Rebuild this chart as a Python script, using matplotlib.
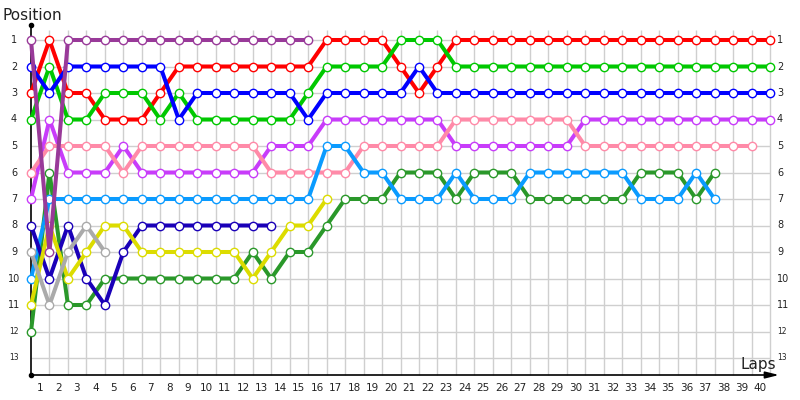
import matplotlib
matplotlib.use("Agg")
import matplotlib.pyplot as plt

# ---- data: position per lap (index 0 = grid / lap 0) ----
laps_total = 40
positions = list(range(1, 14))

red = [3, 1, 3, 3, 4, 4, 4, 3, 2, 2, 2, 2, 2, 2, 2, 2, 1, 1, 1, 1, 2, 3, 2] + [1] * 18
green = [4, 2, 4, 4, 3, 3, 3, 4, 3, 4, 4, 4, 4, 4, 4, 3, 2, 2, 2, 2, 1, 1, 1] + [2] * 18
blue = [2, 3, 2, 2, 2, 2, 2, 2, 4, 3, 3, 3, 3, 3, 3, 4, 3, 3, 3, 3, 3, 2, 3] + [3] * 18
purple = [1, 9] + [1] * 14
violet = [7, 4, 6, 6, 6, 5, 6] + [6] * 6 + [5] * 3 + [4] * 7 + [5] * 7 + [4] * 11
pink = [6, 5, 5, 5, 5, 6] + [5] * 7 + [6] * 5 + [5] * 5 + [4] * 7 + [5] * 10
lightblue = [10, 7] + [7] * 14 + [5, 5, 6, 6, 7, 7, 7, 6, 7, 7, 7] + [6] * 6 + [7, 7, 7, 6, 7]
darkblue = [8, 10, 8, 10, 11, 9, 8, 8, 8, 8, 8, 8, 8, 8]
yellow = [11, 8, 10, 9, 8, 8, 9, 9, 9, 9, 9, 9, 10, 9, 8, 8, 7]
gray = [9, 11, 9, 8, 9]
darkgreen = [12, 6, 11, 11] + [10] * 8 + [9, 10, 9, 9, 8, 7, 7, 7, 6, 6, 6, 7, 6, 6, 6] + [7] * 6 + [6, 6, 6, 7, 6]

series = [
    (red, "#ff0000"),
    (green, "#00c800"),
    (blue, "#0000ff"),
    (violet, "#c83cfa"),
    (pink, "#ff8aa8"),
    (darkgreen, "#2a982a"),
    (lightblue, "#0a9bff"),
    (darkblue, "#1a00b8"),
    (yellow, "#dcdc00"),
    (gray, "#aaaaaa"),
    (purple, "#993a99"),
]

# pixel mapping helpers (figure 800x400, axes fill figure)
X0, DX = 31.0, 18.475   # lap 0 pixel, pixels per lap
Y0, DY = 40.0, 26.5     # position 1 pixel, pixels per position

def lx(px):
    return (px - X0) / DX

def py(px):
    return 1 + (px - Y0) / DY

fig = plt.figure(figsize=(8, 4), dpi=100)
ax = fig.add_axes([0, 0, 1, 1])
ax.set_xlim(lx(0), lx(800))
ax.set_ylim(py(400), py(0))
ax.axis("off")

bottom = py(375)
grid_c = "#cfcfcf"
# grid
ax.vlines(range(1, laps_total + 1), py(30), bottom, colors=grid_c, lw=1, zorder=1)
ax.hlines(positions, 0, laps_total, colors=grid_c, lw=1, zorder=1)

# axes lines
ax.plot([0, 0], [py(25), bottom], color="black", lw=1.2, zorder=2)
ax.plot([0], [py(25)], marker="o", ms=3, color="black", zorder=2)
ax.plot([0], [bottom], marker="o", ms=3, color="black", zorder=2)
ax.annotate("", xy=(lx(779), bottom), xytext=(0, bottom),
            arrowprops=dict(arrowstyle="-|>,head_length=0.8,head_width=0.2",
                            color="black", lw=1.2, shrinkA=0, shrinkB=0), zorder=2)

# series
for i, (vals, col) in enumerate(series):
    ax.plot(range(len(vals)), vals, color=col, lw=2.9, marker="o", ms=6,
            mfc="white", mec=col, mew=1.0, zorder=3 + i, solid_capstyle="round")

# labels
for p in positions:
    fs = 7 if p <= 11 else 5.5
    ax.text(lx(14), p, str(p), ha="center", va="center", fontsize=fs, color="#222222")
    ax.text(lx(777), p, str(p), ha="left", va="center", fontsize=fs, color="#222222")
for k in range(1, laps_total + 1):
    ax.text(k - 0.52, py(388), str(k), ha="center", va="center", fontsize=7.5, color="#222222")

ax.text(lx(3), py(15), "Position", ha="left", va="center", fontsize=11, color="#222222")
ax.text(lx(776), py(369), "Laps", ha="right", va="baseline", fontsize=11, color="#222222")

fig.savefig("out.png", dpi=100)
